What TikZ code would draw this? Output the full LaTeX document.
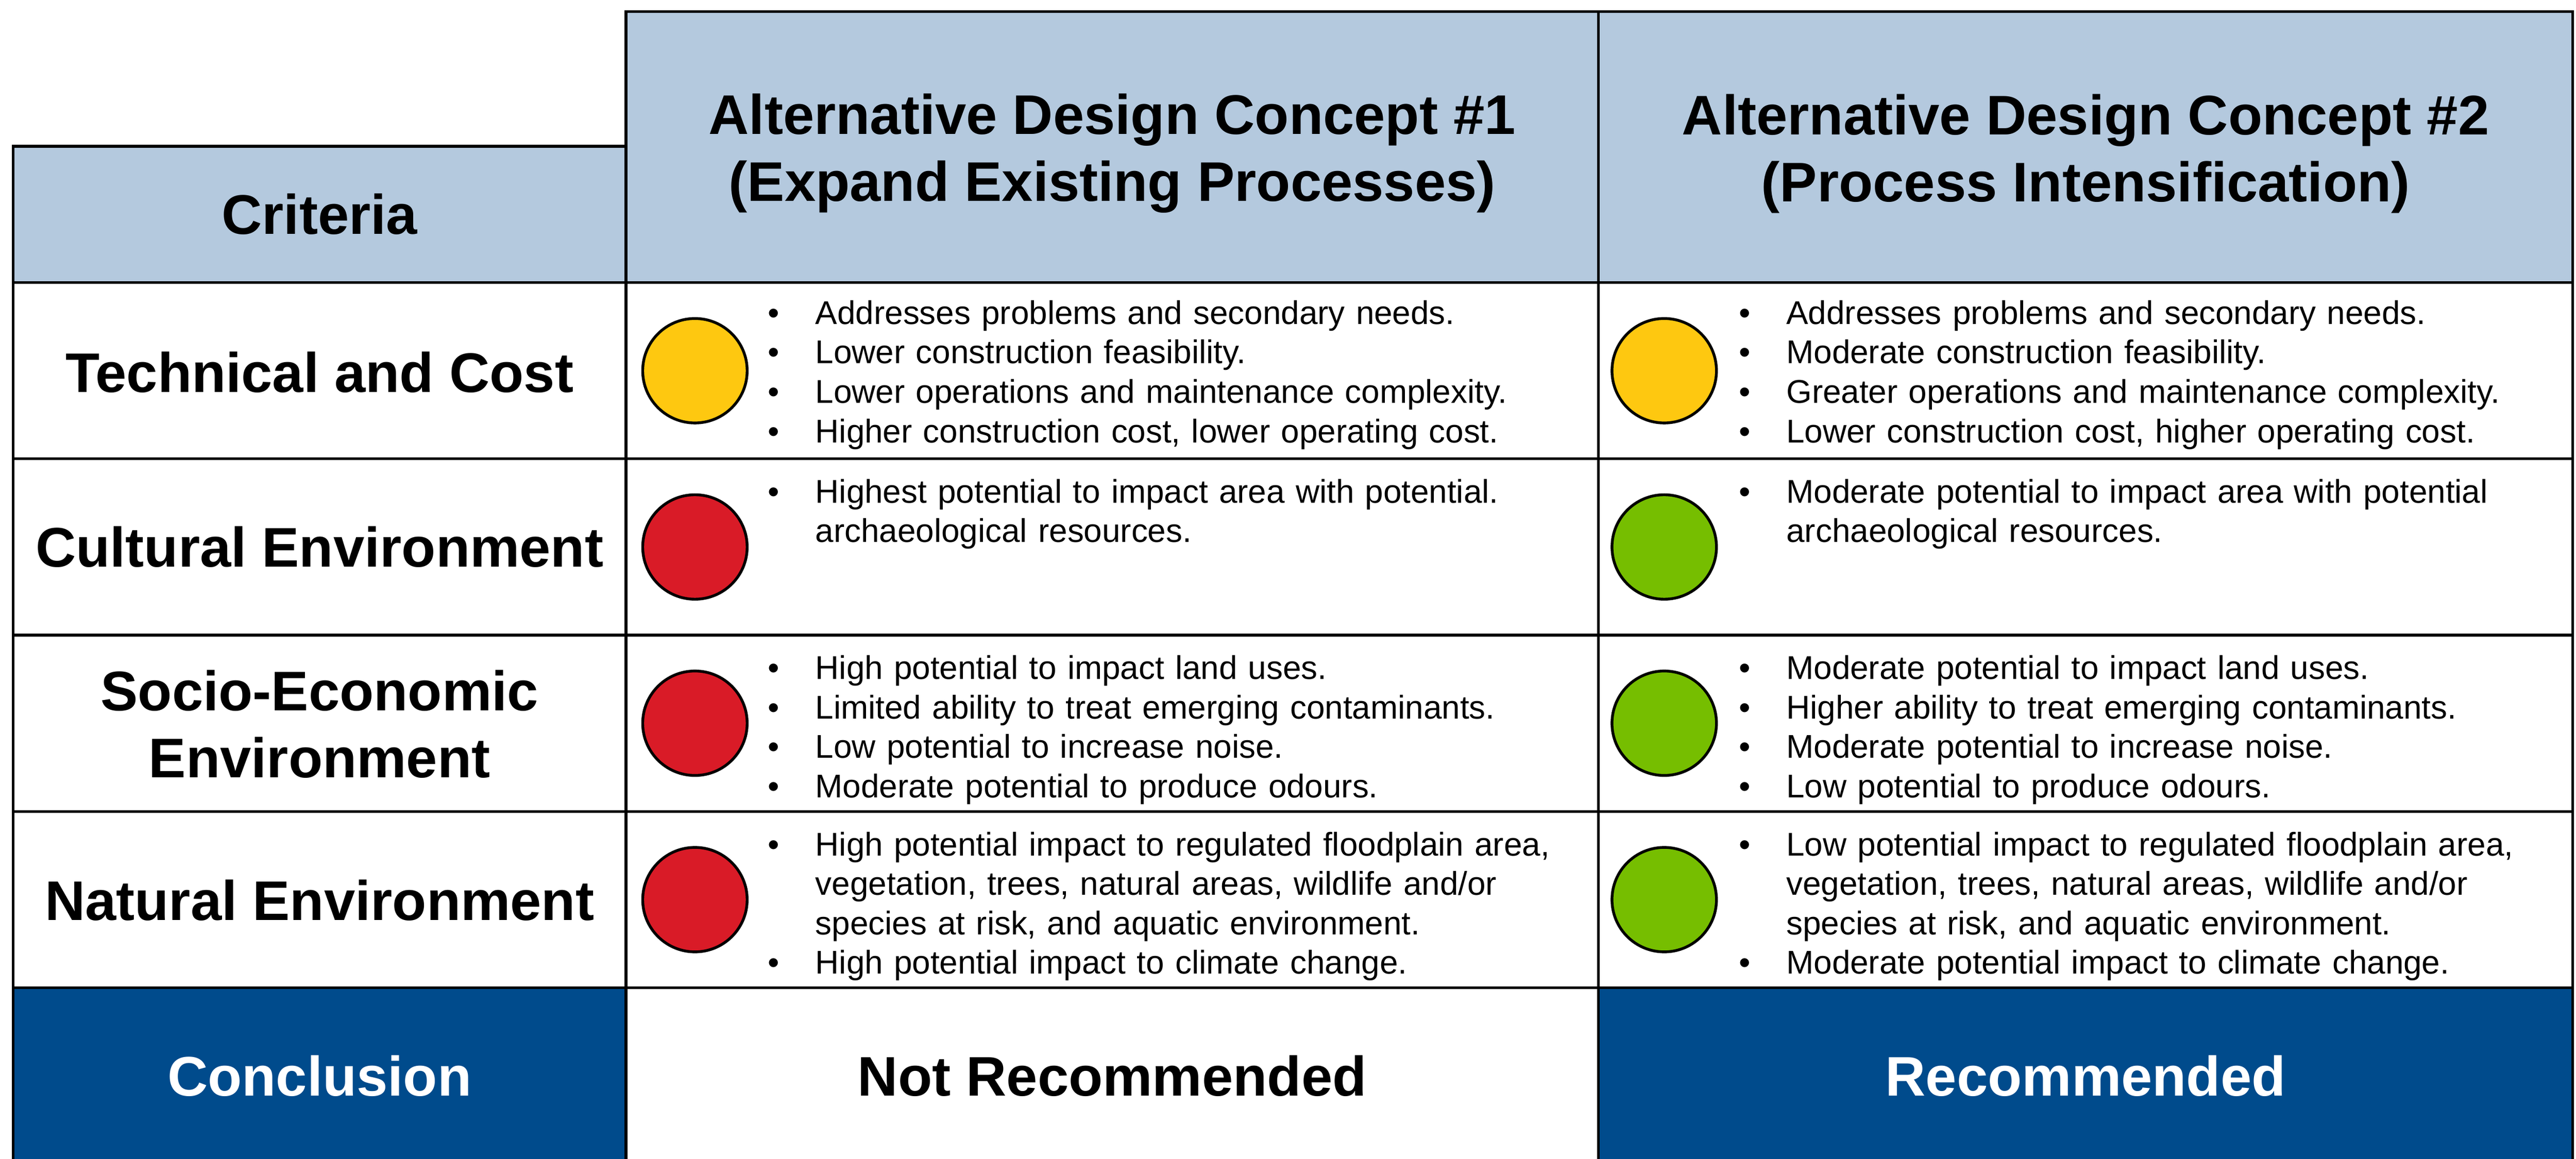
\documentclass[tikz,border=0pt]{standalone}
\usepackage{fontspec}
\setmainfont{Liberation Sans}

\definecolor{headblue}{RGB}{180,201,222}
\definecolor{darkblue}{RGB}{0,75,140}
\definecolor{ratingyellow}{RGB}{254,200,16}
\definecolor{ratingred}{RGB}{217,27,39}
\definecolor{ratinggreen}{RGB}{118,190,0}

\providecommand{\Item}[1]{\noindent\hangindent=14.5pt\hangafter=1\makebox[14.5pt][l]{\textbullet}#1\par}
\providecommand{\Rating}[3]{
\node[rating,fill=#3] (#1) at (#2) {};
}

\tikzset{
grid/.style={line width=0.85pt,line cap=rect},
headtext/.style={font=\fontsize{17}{20.4}\selectfont\bfseries,align=center,inner sep=0pt},
celltext/.style={anchor=north west,inner sep=0pt,text width=260pt,align=left,font=\fontsize{10}{12}\selectfont},
rating/.style={circle,draw,line width=0.85pt,minimum size=31.8pt,inner sep=0pt}
}

\begin{document}
\begin{tikzpicture}[x=0.5pt,y=-0.5pt]
\useasboundingbox (0,0) rectangle (1568,705.6);
\fill[headblue] (8,89) rectangle (381,172);
\fill[headblue] (381,7) rectangle (1566,172);
\fill[darkblue] (8,601.3) rectangle (381,705.6);
\fill[darkblue] (973,601.3) rectangle (1566,705.6);
\draw[grid] (381,7) -- (1566,7) (8,89) -- (381,89);
\foreach \y in {172,279.3,386.7,494,601.3}
  \draw[grid] (8,\y) -- (1566,\y);
\draw[grid] (8,89) -- (8,705.6) (381,7) -- (381,705.6) (973,7) -- (973,705.6) (1566,7) -- (1566,705.6);

\node[headtext] (crit) at (194.5,130.5) {Criteria};
\node[headtext] (alt1) at (677,93.5) {Alternative Design Concept \#1\\(Expand Existing Processes)};
\node[headtext] (alt2) at (1269.5,93.5) {Alternative Design Concept \#2\\(Process Intensification)};
\node[headtext] (tech) at (194.5,226.5) {Technical and Cost};
\node[headtext] (cult) at (194.5,333) {Cultural Environment};
\node[headtext] (socio) at (194.5,440.8) {Socio-Economic\\Environment};
\node[headtext] (nat) at (194.5,548) {Natural Environment};
\node[headtext,text=white] (concl) at (194.5,655) {Conclusion};
\node[headtext] (notrec) at (677,655) {Not Recommended};
\node[headtext,text=white] (rec) at (1269.5,655) {Recommended};

\Rating{r11}{423,225.7}{ratingyellow}\Rating{r12}{1013,225.7}{ratingyellow}
\Rating{r21}{423,333}{ratingred}\Rating{r22}{1013,333}{ratinggreen}
\Rating{r31}{423,440.3}{ratingred}\Rating{r32}{1013,440.3}{ratinggreen}
\Rating{r41}{423,547.7}{ratingred}\Rating{r42}{1013,547.7}{ratinggreen}

\node[celltext] (c11) at (467,182.5) {\Item{Addresses problems and secondary needs.}\Item{Lower construction feasibility.}\Item{Lower operations and maintenance complexity.}\Item{Higher construction cost, lower operating cost.}};
\node[celltext] (c12) at (1058,182.5) {\Item{Addresses problems and secondary needs.}\Item{Moderate construction feasibility.}\Item{Greater operations and maintenance complexity.}\Item{Lower construction cost, higher operating cost.}};
\node[celltext] (c21) at (467,291.3) {\Item{Highest potential to impact area with potential.\newline archaeological resources.}};
\node[celltext] (c22) at (1058,291.3) {\Item{Moderate potential to impact area with potential\newline archaeological resources.}};
\node[celltext] (c31) at (467,398.7) {\Item{High potential to impact land uses.}\Item{Limited ability to treat emerging contaminants.}\Item{Low potential to increase noise.}\Item{Moderate potential to produce odours.}};
\node[celltext] (c32) at (1058,398.7) {\Item{Moderate potential to impact land uses.}\Item{Higher ability to treat emerging contaminants.}\Item{Moderate potential to increase noise.}\Item{Low potential to produce odours.}};
\node[celltext] (c41) at (467,506) {\Item{High potential impact to regulated floodplain area,\newline vegetation, trees, natural areas, wildlife and/or\newline species at risk, and aquatic environment.}\Item{High potential impact to climate change.}};
\node[celltext] (c42) at (1058,506) {\Item{Low potential impact to regulated floodplain area,\newline vegetation, trees, natural areas, wildlife and/or\newline species at risk, and aquatic environment.}\Item{Moderate potential impact to climate change.}};
\end{tikzpicture}
\end{document}
